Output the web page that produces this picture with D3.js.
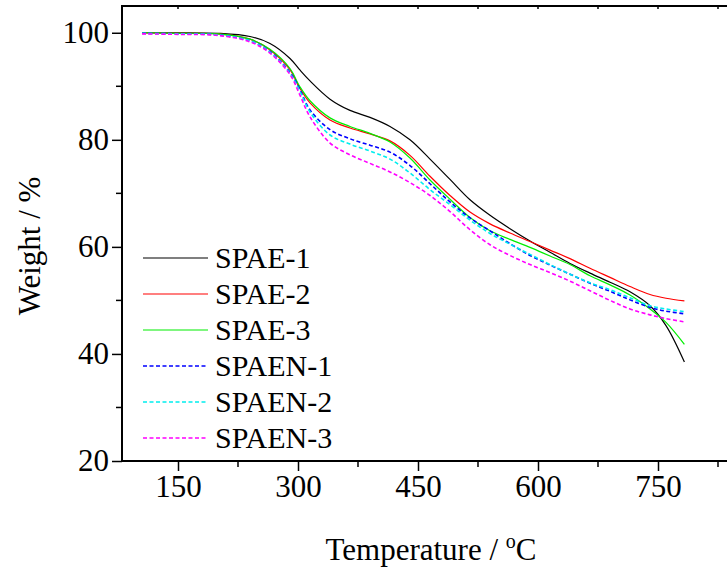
<!DOCTYPE html>
<html>
<head>
<meta charset="utf-8">
<script src="https://cdn.jsdelivr.net/npm/d3@7"></script>
<style>
  body { margin: 0; background: #fff; }
  svg text { font-family: "Liberation Serif", "Times New Roman", serif; fill: #000; }
</style>
</head>
<body>
<div id="chart"></div>
<script>
// temperature grid (°C) shared by all curves
var temps = [105, 150, 200, 240, 265, 290, 302, 315, 340, 365, 390, 415, 440, 465,
             490, 515, 540, 565, 590, 615, 640, 665, 690, 715, 740, 760, 783];

var spae1  = [100, 100, 99.9, 99.3, 98.0, 95.2, 93.1, 91.0, 87.6, 85.5, 84.2, 82.5, 80.0, 76.4,
              72.6, 68.8, 65.9, 63.4, 61.1, 59.0, 56.9, 55.1, 53.4, 51.6, 49.0, 45.3, 38.5];
var spae2  = [100, 99.9, 99.8, 98.8, 96.8, 93.1, 89.7, 86.9, 83.7, 82.2, 81.1, 79.8, 77.1, 73.2,
              69.6, 66.5, 64.3, 62.6, 61.0, 59.4, 57.8, 56.0, 54.3, 52.6, 51.1, 50.4, 49.9];
var spae3  = [100, 99.9, 99.8, 98.8, 96.9, 93.3, 90.0, 87.3, 84.1, 82.5, 81.2, 79.6, 76.6, 72.5,
              68.9, 65.5, 63.0, 61.4, 59.9, 58.3, 56.7, 54.6, 52.9, 51.0, 48.4, 45.9, 41.8];
var spaen1 = [99.9, 99.8, 99.6, 98.5, 96.5, 92.6, 89.5, 85.6, 81.9, 80.2, 79.0, 77.7, 75.2, 71.8,
              68.4, 65.4, 63.0, 60.6, 58.4, 56.6, 54.9, 53.2, 51.7, 50.1, 48.7, 48.0, 47.5];
var spaen2 = [99.9, 99.8, 99.6, 98.5, 96.4, 92.4, 89.2, 85.2, 80.9, 79.2, 77.9, 76.4, 73.8, 70.7,
              67.9, 65.0, 62.5, 60.5, 58.6, 56.7, 54.9, 53.3, 52.0, 50.5, 49.0, 48.4, 47.9];
var spaen3 = [99.8, 99.7, 99.5, 98.3, 96.2, 92.2, 88.5, 84.3, 79.4, 77.2, 75.6, 74.0, 72.0, 69.6,
              66.6, 63.2, 60.4, 58.4, 56.7, 55.2, 53.6, 51.8, 50.0, 48.4, 47.3, 46.6, 46.0];

var seriesNames = ["SPAE-1", "SPAE-2", "SPAE-3", "SPAEN-1", "SPAEN-2", "SPAEN-3"];
var seriesValues = [spae1, spae2, spae3, spaen1, spaen2, spaen3];

var xMajor = [150, 300, 450, 600, 750];
var xMinor = [225, 375, 525, 675, 825];
var yMajor = [20, 40, 60, 80, 100];
var yMinor = [30, 50, 70, 90];

(function () {
    var width = 727, height = 574;
    var margin = { top: 6, left: 122, bottom: 461 };
    var right = 738;

    var colors = ["#000000", "#ff0000", "#00ee00", "#0000ff", "#00eeee", "#ff00ff"];
    var dashed = [false, false, false, true, true, true];

    var svg = d3.select("#chart").append("svg")
        .attr("width", width)
        .attr("height", height);

    var x = d3.scaleLinear().domain([80, 850]).range([margin.left, right]);
    var y = d3.scaleLinear().domain([20, 105]).range([margin.bottom, margin.top]);

    // curves (drawn first so frame sits on top)
    var line = d3.line()
        .x((d, i) => x(temps[i]))
        .y(d => y(d))
        .curve(d3.curveCatmullRom.alpha(0.5));

    seriesValues.forEach(function (vals, k) {
        svg.append("path")
            .attr("d", line(vals))
            .attr("fill", "none")
            .attr("stroke", colors[k])
            .attr("stroke-width", dashed[k] ? 1.6 : 1.2)
            .attr("stroke-dasharray", dashed[k] ? "4,2.5" : null);
    });

    // frame
    svg.append("rect")
        .attr("x", margin.left)
        .attr("y", margin.top)
        .attr("width", right - margin.left)
        .attr("height", margin.bottom - margin.top)
        .attr("fill", "none")
        .attr("stroke", "#000")
        .attr("stroke-width", 2);

    // bottom axis
    var xAxis = svg.append("g").attr("transform", "translate(0," + margin.bottom + ")");
    xAxis.call(d3.axisBottom(x).tickValues(xMajor).tickSize(10).tickPadding(4))
        .call(g => g.select(".domain").remove());
    xAxis.selectAll("line").attr("stroke-width", 1.5);
    xAxis.selectAll("text").attr("font-size", 31).attr("font-family", "Liberation Serif");
    xAxis.selectAll(".minor").data(xMinor).enter().append("line")
        .attr("x1", d => x(d)).attr("x2", d => x(d))
        .attr("y1", 0).attr("y2", 6)
        .attr("stroke", "#000").attr("stroke-width", 1.5);

    // top axis, inward ticks
    var topAxis = svg.append("g").attr("transform", "translate(0," + margin.top + ")");
    topAxis.selectAll("line").data(xMajor.concat(xMinor)).enter().append("line")
        .attr("x1", d => x(d)).attr("x2", d => x(d))
        .attr("y1", 0).attr("y2", 3)
        .attr("stroke", "#000").attr("stroke-width", 1.5);

    // left axis
    var yAxis = svg.append("g").attr("transform", "translate(" + margin.left + ",0)");
    yAxis.call(d3.axisLeft(y).tickValues(yMajor).tickSize(10).tickPadding(3))
        .call(g => g.select(".domain").remove());
    yAxis.selectAll("line").attr("stroke-width", 1.5);
    yAxis.selectAll("text").attr("font-size", 31).attr("font-family", "Liberation Serif");
    yAxis.selectAll(".minor").data(yMinor).enter().append("line")
        .attr("x1", 0).attr("x2", -6)
        .attr("y1", d => y(d)).attr("y2", d => y(d))
        .attr("stroke", "#000").attr("stroke-width", 1.5);

    // axis titles
    var xt = svg.append("text")
        .attr("x", 431)
        .attr("y", 560)
        .attr("text-anchor", "middle")
        .attr("font-size", 31);
    xt.append("tspan").text("Temperature / ");
    xt.append("tspan").text("o").attr("font-size", 20).attr("dy", -12);
    xt.append("tspan").text("C").attr("dy", 12);

    svg.append("text")
        .attr("transform", "translate(40,246) rotate(-90)")
        .attr("text-anchor", "middle")
        .attr("font-size", 31)
        .text("Weight / %");

    // legend
    var legend = svg.append("g");
    seriesNames.forEach(function (name, k) {
        var ly = 258 + k * 36;
        legend.append("line")
            .attr("x1", 143).attr("x2", 208)
            .attr("y1", ly).attr("y2", ly)
            .attr("stroke", colors[k])
            .attr("stroke-width", dashed[k] ? 1.6 : 1.2)
            .attr("stroke-dasharray", dashed[k] ? "4,2.5" : null);
        legend.append("text")
            .attr("x", 215)
            .attr("y", ly + 10)
            .attr("font-size", 30)
            .text(name);
    });
})();
</script>
</body>
</html>
